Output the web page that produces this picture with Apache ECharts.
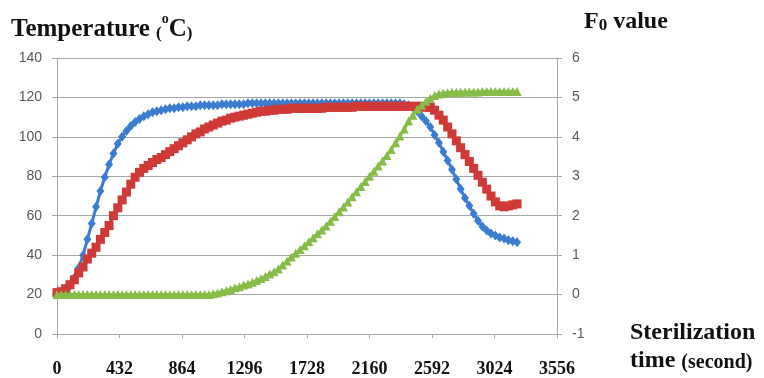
<!DOCTYPE html>
<html>
<head>
<meta charset="utf-8">
<script src="https://cdn.jsdelivr.net/npm/echarts@6/dist/echarts.min.js"></script>
<style>
html,body{margin:0;padding:0;background:#fff;}
#chart{width:764px;height:378px;}
</style>
</head>
<body>
<div id="chart"></div>
<script>
const times = [0,30,60,90,120,150,180,210,240,270,300,330,360,390,420,450,480,510,540,570,600,630,660,690,720,750,780,810,840,870,900,930,960,990,1020,1050,1080,1110,1140,1170,1200,1230,1260,1290,1320,1350,1380,1410,1440,1470,1500,1530,1560,1590,1620,1650,1680,1710,1740,1770,1800,1830,1860,1890,1920,1950,1980,2010,2040,2070,2100,2130,2160,2190,2220,2250,2280,2310,2340,2370,2400,2430,2460,2490,2520,2550,2580,2610,2640,2670,2700,2730,2760,2790,2820,2850,2880,2910,2940,2970,3000,3030,3060,3090,3120,3150,3180];

const tempProbe1 = [20.5,21,22,24.5,28.5,33.5,40,48,56,64.5,72.5,79.5,86,91.5,96.5,100,103,105.5,107.5,109,110.5,111.5,112.5,113,113.5,114,114.5,114.5,115,115,115.5,115.5,115.5,116,116,116,116,116,116.5,116.5,116.5,116.5,116.5,116.5,117,
117,117,117,117,117,117,117,117,117,117,117,117,117,117,117,117,117,117,117,117,117,117,117,117,117,117,117,117,117,117,117,117,117,117,117,
116.5,116,115,113,110.5,108,105,101,97,92.5,88,83.5,78.5,73.5,69,65,61,57.5,54.5,52.5,51,50,49,48.5,47.5,47,46.5];

const tempProbe2 = [21,21.5,23,25,27.5,31,34,38,41,44,48,51.5,55,60,64,68,72,76,79.5,82,84,85.5,87,88.5,89.5,91,92.5,94,95.5,97,98.5,100,101.5,102.5,104,105,106,107,108,108.5,109.5,110,110.5,111,111.5,112,112.5,113,113,113.5,113.5,114,114,114,114.5,114.5,114.5,114.5,114.5,114.5,114.5,114.5,115,115,115,115,115,115,115,115.5,115.5,115.5,115.5,115.5,115.5,115.5,115.5,115.5,115.5,115.5,115.5,115.5,115.5,115.5,115.5,115,115,113.5,111,108.5,105,101.5,98,94.5,91,87.5,84,80.5,77,73.5,70,67,65,64.5,65,65.5,66];

const f0Value = [0,0,0,0,0,0,0,0,0,0,0,0,0,0,0,0,0,0,0,0,0,0,0,0,0,0,0,0,0,0,0,0,0,0,0,0,
0.02,0.04,0.07,0.1,0.13,0.17,0.2,0.24,0.27,0.31,0.36,0.41,0.46,0.52,0.58,0.65,0.75,0.85,0.95,1.05,1.14,1.24,1.34,1.44,1.54,1.64,1.74,1.86,1.98,2.1,2.22,2.35,2.48,2.61,2.74,2.87,3.0,3.13,3.26,3.39,3.53,3.68,3.85,4.02,4.2,4.4,4.55,4.7,4.8,4.9,4.98,5.05,5.09,5.11,5.12,
5.13,5.13,5.13,5.14,5.14,5.14,5.14,5.15,5.15,5.15,5.15,5.15,5.15,5.15,5.15,5.15];

const xTickLabels = ['0','432','864','1296','1728','2160','2592','3024','3556'];
const leftTicks = [0,20,40,60,80,100,120,140];
const rightTicks = [-1,0,1,2,3,4,5,6];

const chart = echarts.init(document.getElementById('chart'), null, {renderer:'canvas'});
const gridColor = '#a6a6a6';
const labelGray = '#595959';
const serif = '"Liberation Serif","Times New Roman",serif';

function pairs(arr){ return times.map((t,i)=>[t, arr[i]]); }

chart.setOption({
  animation:false,
  backgroundColor:'#ffffff',
  title:[
    {left:6, top:7, text:'{a|Temperature }{p|(}{o|o}{a|C}{p|)}',
     textStyle:{rich:{
       a:{fontFamily:serif,fontWeight:'bold',fontSize:25,color:'#111',lineHeight:30,verticalAlign:'bottom'},
       p:{fontFamily:serif,fontWeight:'bold',fontSize:17,color:'#111',lineHeight:21,verticalAlign:'bottom'},
       o:{fontFamily:serif,fontWeight:'bold',fontSize:14,color:'#111',lineHeight:15,verticalAlign:'top'}
     }}},
    {left:579, top:0, text:'{a|F}{s|0}{a| value}',
     textStyle:{rich:{
       a:{fontFamily:serif,fontWeight:'bold',fontSize:24,color:'#111',lineHeight:29,verticalAlign:'bottom'},
       s:{fontFamily:serif,fontWeight:'bold',fontSize:17,color:'#111',lineHeight:19,verticalAlign:'bottom'}
     }}},
    {left:625, top:313, text:'{a|Sterilization}',
     textStyle:{rich:{
       a:{fontFamily:serif,fontWeight:'bold',fontSize:24,color:'#111',lineHeight:29}
     }}},
    {left:625, top:339, text:'{a|time }{p|(second)}',
     textStyle:{rich:{
       a:{fontFamily:serif,fontWeight:'bold',fontSize:24,color:'#111',lineHeight:29,verticalAlign:'bottom'},
       p:{fontFamily:serif,fontWeight:'bold',fontSize:20,color:'#111',lineHeight:25,verticalAlign:'bottom'}
     }}}
  ],
  grid:{left:57, right:207, top:58, bottom:40, containLabel:false},
  xAxis:{
    type:'value', min:0, max:3456, interval:432,
    axisLine:{show:true, onZero:false, lineStyle:{color:gridColor, width:1}},
    axisTick:{show:true, length:4, lineStyle:{color:gridColor}},
    splitLine:{show:false},
    axisLabel:{
      margin:26, color:'#111', fontFamily:serif, fontWeight:'bold', fontSize:18,
      formatter:(v)=>xTickLabels[Math.round(v/432)]
    }
  },
  yAxis:[
    {type:'value', min:leftTicks[0], max:leftTicks[leftTicks.length-1], interval:20, position:'left',
     axisLine:{show:true, lineStyle:{color:gridColor}},
     axisTick:{show:true, length:5, lineStyle:{color:gridColor}},
     splitLine:{show:true, lineStyle:{color:gridColor, width:1.2}},
     axisLabel:{margin:15, color:labelGray, fontFamily:'"Liberation Sans",Arial,sans-serif', fontSize:14}},
    {type:'value', min:rightTicks[0], max:rightTicks[rightTicks.length-1], interval:1, position:'right',
     axisLine:{show:true, lineStyle:{color:gridColor}},
     axisTick:{show:true, length:5, lineStyle:{color:gridColor}},
     splitLine:{show:false},
     axisLabel:{margin:15, color:labelGray, fontFamily:'"Liberation Sans",Arial,sans-serif', fontSize:14}}
  ],
  series:[
    {name:'Temperature 1', type:'line', yAxisIndex:0, data:pairs(tempProbe1),
     symbol:'diamond', symbolSize:[8,10], showAllSymbol:true,
     itemStyle:{color:'#3a7dd0'}, lineStyle:{color:'#3a7dd0', width:3}, z:2},
    {name:'Temperature 2', type:'line', yAxisIndex:0, data:pairs(tempProbe2),
     symbol:'rect', symbolSize:9, showAllSymbol:true,
     itemStyle:{color:'#cf3a36'}, lineStyle:{color:'#cf3a36', width:3}, z:3},
    {name:'F0 value', type:'line', yAxisIndex:1, data:pairs(f0Value),
     symbol:'triangle', symbolSize:9, showAllSymbol:true,
     itemStyle:{color:'#86bd48'}, lineStyle:{color:'#86bd48', width:3}, z:4}
  ]
});
</script>
</body>
</html>
